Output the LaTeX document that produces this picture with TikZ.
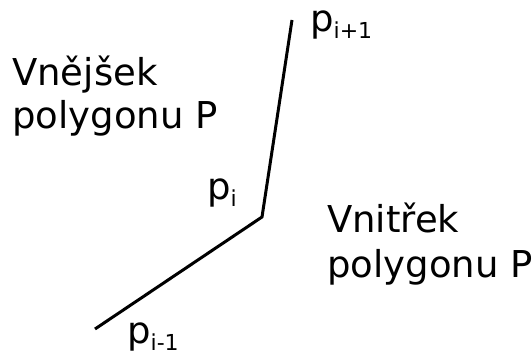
\documentclass[tikz,border=0pt]{standalone}
\usepackage{fontspec}
\setmainfont{DejaVu Sans}
\newcommand\lowsub[1]{\raisebox{-7pt}{\fontsize{22}{22}\selectfont #1}}
\begin{document}
\begin{tikzpicture}[x=1pt,y=-1pt,
  lbl/.style={anchor=base west,inner sep=0pt,font=\fontsize{37}{43}\selectfont},
  edge/.style={line width=3pt,line join=miter}]
\useasboundingbox (0,0) rectangle (532,352);
\coordinate (a) at (95,329);
\coordinate (b) at (262,217);
\coordinate (c) at (292,20);
\draw[edge] (a) -- (b) -- (c);
\node[lbl] (o1) at (12,86) {Vnějšek};
\node[lbl] (o2) at (12,129) {polygonu P};
\node[lbl] (i1) at (327,233) {Vnitřek};
\node[lbl] (i2) at (327,277) {polygonu P};
\node[lbl] (pi) at (207,200) {p\lowsub{i}};
\node[lbl] (pn) at (310,32) {p\lowsub{i+1}};
\node[lbl] (pp) at (127,343) {p\lowsub{i-1}};
\end{tikzpicture}
\end{document}
